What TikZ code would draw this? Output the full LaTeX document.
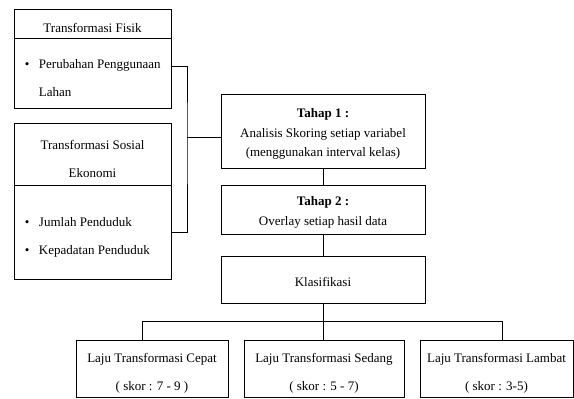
\documentclass[tikz,border=0pt]{standalone}
\usepackage{fontspec}
\setmainfont{Liberation Serif}

\newcommand{\wgap}{\rule{0pt}{19pt}}
\newcommand{\tgap}{\rule{0pt}{15pt}}

\begin{document}
\begin{tikzpicture}
        [
            x = 1pt, y = -1pt,
            boxed/.style      = {shape=rectangle, draw, align=center, inner sep=0pt},
            wide/.style       = {boxed, font=\fontsize{13}{28}\selectfont},
            tight/.style      = {boxed, font=\fontsize{13}{19.5}\selectfont},
            listed/.style     = {wide, align=flush left, text width=146pt},
            every path/.style = {line width=0.8pt},
            ]
            \useasboundingbox (0,0) rectangle (574,399);
            % variabel
            \node [wide, minimum width=157pt, minimum height=29pt] (fisikhead) at (92.5,23.5) {\wgap Transformasi Fisik};
            \node [listed, minimum width=157pt, minimum height=70pt] (fisikbody) at (92.5,73)
                {\wgap\hspace*{5.5pt}\makebox[14pt][l]{\textbullet}Perubahan Penggunaan\\\hspace*{19.5pt}Lahan};
            \node [wide, minimum width=157pt, minimum height=62pt] (sosialhead) at (92.5,154) {\wgap Transformasi Sosial\\Ekonomi};
            \node [listed, minimum width=157pt, minimum height=94pt] (sosialbody) at (92.5,232)
                {\wgap\hspace*{5.5pt}\makebox[14pt][l]{\textbullet}Jumlah Penduduk\\\hspace*{5.5pt}\makebox[14pt][l]{\textbullet}Kepadatan Penduduk};
            % tahap
            \node [tight, minimum width=204pt, minimum height=74pt] (tahap1) at (323,131)
                {\tgap\textbf{Tahap 1 :}\\Analisis Skoring setiap variabel\\(menggunakan interval kelas)};
            \node [tight, minimum width=204pt, minimum height=49pt] (tahap2) at (323,209.5)
                {\tgap\textbf{Tahap 2 :}\\Overlay setiap hasil data};
            \node [tight, minimum width=204pt, minimum height=47pt] (klas) at (323,279.5) {\tgap Klasifikasi};
            % hasil
            \node [wide, minimum width=152pt, minimum height=57pt] (cepat) at (152,368.5) {\wgap Laju Transformasi Cepat\\( skor : 7 - 9 )};
            \node [wide, minimum width=160pt, minimum height=57pt] (sedang) at (324,368.5) {\wgap Laju Transformasi Sedang\\( skor : 5 - 7)};
            \node [wide, minimum width=153pt, minimum height=57pt] (lambat) at (496.5,368.5) {\wgap Laju Transformasi Lambat\\( skor : 3-5)};
            % garis
            \coordinate (brk) at (187,137);
            \coordinate (busl) at (142,321);
            \coordinate (busr) at (502,321);
            \draw ([yshift=7pt]fisikbody.east) -| (brk) |- (sosialbody.east);
            \draw (brk) -- (brk -| tahap1.west);
            \draw (tahap1) -- (tahap2);
            \draw (tahap2) -- (klas);
            \draw (klas) -- (klas |- sedang.north);
            \draw (busl |- cepat.north) -- (busl) -- (busr) -- (busr |- lambat.north);
        \end{tikzpicture}
\end{document}
